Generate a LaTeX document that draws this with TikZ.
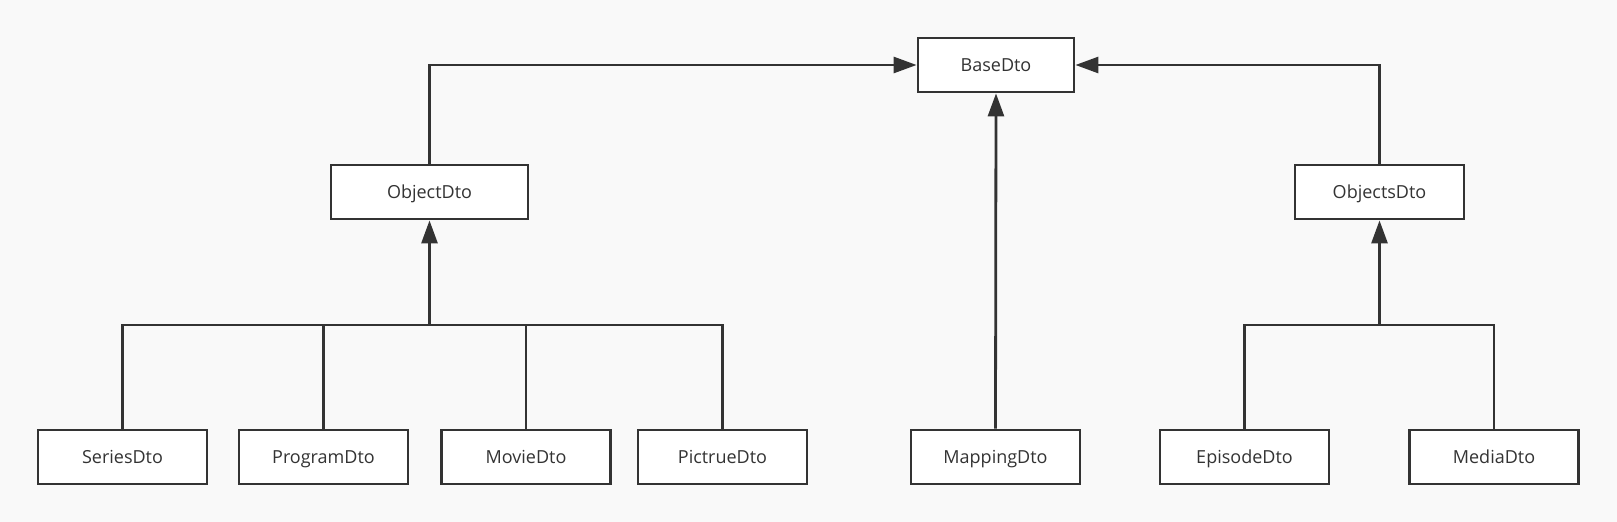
\documentclass[tikz,border=0pt]{standalone}
\usepackage{fontspec}
\setmainfont{Open Sans}
\usetikzlibrary{arrows.meta}
\definecolor{bg}{HTML}{F9F9F9}
\definecolor{ln}{HTML}{333333}
\begin{document}
\begin{tikzpicture}[x=1pt,y=-1pt,
  cls/.style={draw=ln,line width=2.8pt,fill=white,minimum height=54pt,inner sep=0pt,text height=15pt,text depth=3pt,font=\fontsize{18}{21}\selectfont,text=ln},
  link/.style={draw=ln,line width=2.8pt},
  inh/.style={link,-{Triangle[length=23pt,width=16pt]}}]
\fill[bg] (0,0) rectangle (1617,522);
\useasboundingbox (0,0) rectangle (1617,522);
\node[cls,minimum width=156pt] (base) at (996,65) {BaseDto};
\node[cls,minimum width=197pt] (obj) at (429.5,192) {ObjectDto};
\node[cls,minimum width=169pt] (objs) at (1379.5,192) {ObjectsDto};
\node[cls,minimum width=169pt] (series) at (122.5,457) {SeriesDto};
\node[cls,minimum width=169pt] (program) at (323.5,457) {ProgramDto};
\node[cls,minimum width=169pt] (movie) at (526,457) {MovieDto};
\node[cls,minimum width=169pt] (pict) at (722.5,457) {PictrueDto};
\node[cls,minimum width=169pt] (mapping) at (995.5,457) {MappingDto};
\node[cls,minimum width=169pt] (episode) at (1244.5,457) {EpisodeDto};
\node[cls,minimum width=169pt] (media) at (1494,457) {MediaDto};
\coordinate (busL) at (429.5,325);
\coordinate (busR) at (1379.5,325);
% left group
\draw[link] (series.north) |- (busL) (program.north) |- (busL) (movie.north) |- (busL) (pict.north) |- (busL);
\draw[inh] (busL) -- (obj.south);
% right group
\draw[link] (episode.north) |- (busR) (media.north) |- (busR);
\draw[inh] (busR) -- (objs.south);
% to base
\draw[inh] (obj.north) |- (base.west);
\draw[inh] (objs.north) |- (base.east);
\draw[inh] (mapping.north) -- (base.south);
\end{tikzpicture}
\end{document}
